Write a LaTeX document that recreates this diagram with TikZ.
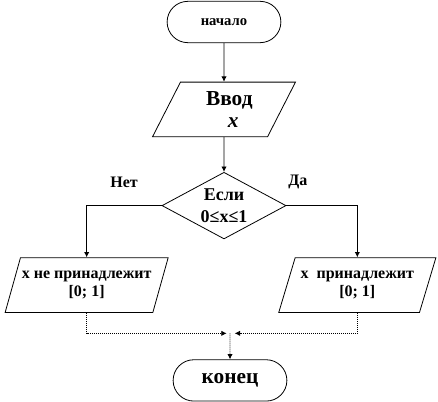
\documentclass[tikz,border=0pt]{standalone}
\usepackage{fontspec}
\setmainfont{Liberation Serif}
\usetikzlibrary{positioning,arrows.meta,shapes.geometric,shapes.misc}

\begin{document}
\begin{tikzpicture}[
    term/.style={draw, rounded rectangle, minimum height=31pt, minimum width=92pt, font=\bfseries},
    io/.style={draw, trapezium, trapezium left angle=64, trapezium right angle=116, trapezium stretches=true, minimum height=41pt, font=\bfseries\fontsize{12}{14}\selectfont, align=center, inner sep=1pt},
    cond/.style={draw, diamond, aspect=1.86, minimum width=93pt, minimum height=50pt, inner sep=0pt, align=center, font=\bfseries\fontsize{13.5}{16}\selectfont},
    arrow/.style={-{Latex[length=4pt,width=4pt]}, line width=0.6pt},
    dotline/.style={arrow, dash pattern=on 0.75pt off 0.75pt},
    label/.style={font=\bfseries\fontsize{12}{14}\selectfont},
    line width=0.6pt
]
\useasboundingbox (0,0) rectangle (328.5pt,-301.5pt);
% Nodes
\node[term, font=\bfseries\fontsize{11}{13}\selectfont] (start) at (168pt,-16.5pt) {начало};
\node[io, below=29pt of start, minimum width=108pt, font=\bfseries\fontsize{16}{17}\selectfont] (input) {\hspace*{8pt}Ввод\\ \hspace*{14pt}\textit{x}};
\node[cond, below=26pt of input] (check) {Если\\ 0≤x≤1};
\node[io, below=13.5pt of check, xshift=-103pt, minimum width=118pt] (notin) {x не принадлежит\\ {[0; 1]}};
\node[io, below=13.5pt of check, xshift=100pt, minimum width=118pt] (isin) {x\enspace принадлежит\\ {[0; 1]}};
\node[term, below=90pt of check, xshift=4.5pt, font=\bfseries\fontsize{16}{18}\selectfont] (finish) {конец};
\coordinate[above=19.5pt of finish] (join);
\coordinate[left=2.5pt of join] (joinl);
\coordinate[right=3.5pt of join] (joinr);

% Arrows
\draw[arrow] (start) -- (input);
\draw[arrow] (input) -- (check);
\draw[arrow] (check.west) -| node[label, pos=0.25, above=10pt]{Нет} (notin.north);
\draw[arrow] (check.east) -| node[label, pos=0.08, above=9pt]{Да} (isin.north);
\draw[dotline] (notin.south) |- (joinl);
\draw[dotline] (isin.south) |- (joinr);
\draw[dotline] (join) -- (finish);
\end{tikzpicture}
\end{document}
